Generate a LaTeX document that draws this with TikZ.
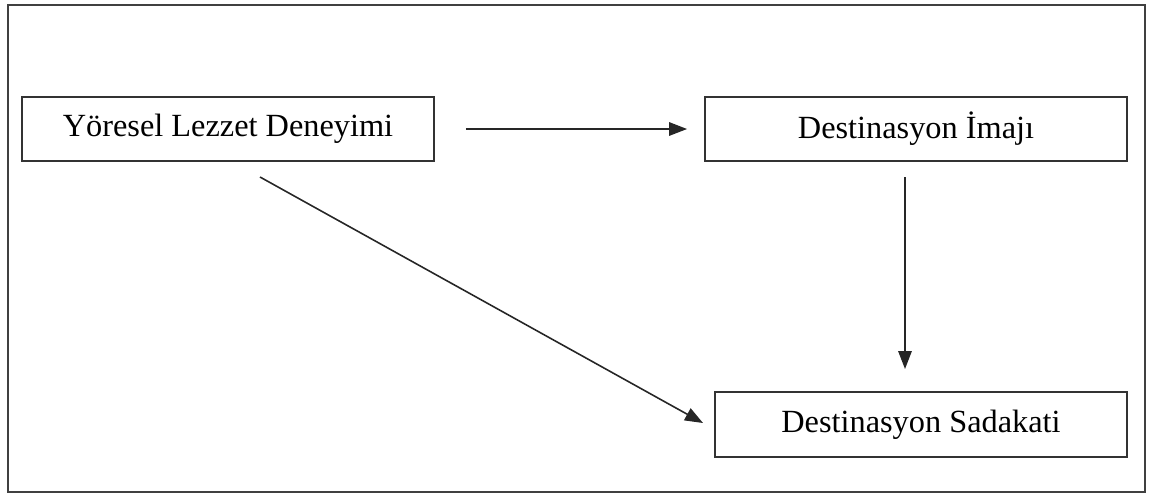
\documentclass[tikz,border=0pt]{standalone}
\usepackage{fontspec}
\setmainfont{Liberation Serif}
\usetikzlibrary{arrows.meta}

\tikzset{
  kutu/.style={draw=black!80, line width=1.1pt, minimum height=1.28cm, inner sep=0pt,
    font=\fontsize{18.4}{22}\selectfont},
  ok/.style={line width=0.9pt, draw=black!85, -{Triangle[length=0.36cm,width=0.27cm]}}
}

\begin{document}
\begin{tikzpicture}[x=0.02cm, y=-0.02cm]
        \useasboundingbox (0,0) rectangle (1153,495);
        \draw[black!75, line width=1.1pt] (8,5) rectangle (1145,492);
        % kutular
        \node[kutu, minimum width=8.24cm] (yoresel) at (228,129) {Yöresel Lezzet Deneyimi};
        \node[kutu, minimum width=8.44cm] (imaj) at (916,129) {Destinasyon İmajı};
        \node[kutu, minimum width=8.24cm, minimum height=1.3cm] (sadakat) at (921,424.5) {Destinasyon Sadakati};
        % oklar
        \draw[ok, shorten <=0.62cm, shorten >=0.34cm] (yoresel) -- (imaj);
        \coordinate (imajalt) at (905,177);
        \coordinate (sadakatust) at (905,369);
        \draw[ok] (imajalt) -- (sadakatust);
        \coordinate (yoreselalt) at (260,177);
        \coordinate (sadakatsol) at (703,423);
        \draw[ok] (yoreselalt) -- (sadakatsol);
\end{tikzpicture}
\end{document}
